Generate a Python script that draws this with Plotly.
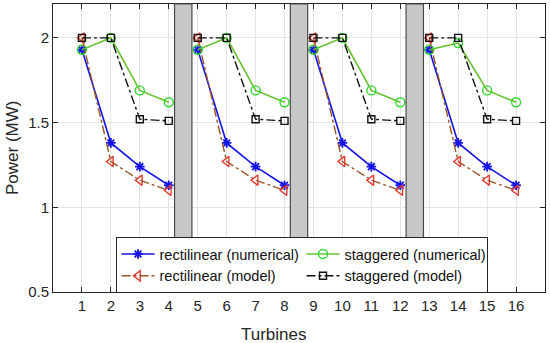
import plotly.graph_objects as go

turbines = list(range(1, 17))
rect_num = [1.93, 1.38, 1.24, 1.13, 1.93, 1.38, 1.24, 1.13, 1.93, 1.38, 1.24, 1.13, 1.93, 1.38, 1.24, 1.13]
rect_model = [2.0, 1.27, 1.16, 1.10, 2.0, 1.27, 1.16, 1.10, 2.0, 1.27, 1.16, 1.10, 2.0, 1.27, 1.16, 1.10]
stag_num = [1.93, 2.0, 1.69, 1.62, 1.93, 2.0, 1.69, 1.62, 1.93, 2.0, 1.69, 1.62, 1.93, 1.97, 1.69, 1.62]
stag_model = [2.0, 2.0, 1.52, 1.51, 2.0, 2.0, 1.52, 1.51, 2.0, 2.0, 1.52, 1.51, 2.0, 2.0, 1.52, 1.51]
groups = [[1, 2, 3, 4], [5, 6, 7, 8], [9, 10, 11, 12], [13, 14, 15, 16]]
gap_centers = [4.5, 8.5, 12.5]
gap_half = 0.3
y_ticks = [0.5, 1, 1.5, 2]

FONT = "Liberation Sans, Arial, Helvetica, sans-serif"

series = [
    ("rectilinear (numerical)", rect_num, dict(color="#1414E6", width=1.6, dash="solid"),
     dict(symbol="asterisk", size=8, color="#1414E6", line=dict(color="#1414E6", width=1.8))),
    ("staggered (numerical)", stag_num, dict(color="#66C22E", width=1.6, dash="solid"),
     dict(symbol="circle-open", size=9, color="#2ED82E", line=dict(color="#2ED82E", width=1.4))),
    ("rectilinear (model)", rect_model, dict(color="#9A5525", width=1.4, dash="dashdot"),
     dict(symbol="triangle-left-open", size=9, color="#E03A2E", line=dict(color="#E03A2E", width=1.4))),
    ("staggered (model)", stag_model, dict(color="#111111", width=1.4, dash="dashdot"),
     dict(symbol="square-open", size=7, color="#111111", line=dict(color="#111111", width=1.4))),
]

fig = go.Figure()
for name, vals, ln, mk in series:
    xs, ys = [], []
    for gi, g in enumerate(groups):
        for t in g:
            xs.append(t)
            ys.append(vals[t - 1])
        if gi < len(groups) - 1:
            xs.append(None)
            ys.append(None)
    fig.add_trace(go.Scatter(x=xs, y=ys, mode="lines+markers", name=name,
                             line=ln, marker=mk, connectgaps=False))

for c in gap_centers:
    fig.add_shape(type="rect", xref="x", yref="paper", x0=c - gap_half, x1=c + gap_half,
                  y0=0, y1=1, fillcolor="#C8C8C8", line=dict(color="#4a4a4a", width=1.2),
                  layer="above")

L, R, T, B = 53, 5, 4, 51
PW, PH = 550 - L - R, 343 - T - B

fig.update_layout(
    width=550, height=343,
    margin=dict(l=L, r=R, t=T, b=B, autoexpand=False),
    paper_bgcolor="white", plot_bgcolor="white",
    font=dict(family=FONT, size=15, color="#262626"),
    showlegend=True,
    legend=dict(orientation="h", x=(115.5 - L) / PW, y=(343 - B - 237) / PH,
                xanchor="left", yanchor="top",
                bgcolor="white", bordercolor="#262626", borderwidth=1,
                font=dict(family=FONT, size=14.5, color="#111111"),
                entrywidth=137, itemwidth=33, tracegroupgap=0),
    annotations=[
        dict(text="Power (MW)", xref="paper", yref="paper", x=(12 - L) / PW, y=0.5,
             textangle=-90, showarrow=False, xanchor="center", yanchor="middle",
             font=dict(size=17, family=FONT, color="#262626")),
        dict(text="Turbines", xref="paper", yref="paper", x=(274 - L) / PW, y=-(334 - (343 - B)) / PH,
             showarrow=False, xanchor="center", yanchor="middle",
             font=dict(size=17, family=FONT, color="#262626")),
    ],
)
fig.update_xaxes(range=[0, 17], tickvals=turbines, ticktext=[str(t) for t in turbines],
                 ticks="inside", ticklen=5, tickcolor="#262626", mirror="ticks",
                 showline=True, linecolor="#262626", linewidth=1, automargin=False,
                 showgrid=True, gridcolor="#E4E4E4", gridwidth=1, zeroline=False,
                 tickfont=dict(size=15))
fig.update_yaxes(range=[0.5, 2.2], tickvals=y_ticks, ticktext=["0.5", "1", "1.5", "2"],
                 ticks="inside", ticklen=5, tickcolor="#262626", mirror="ticks",
                 showline=True, linecolor="#262626", linewidth=1, automargin=False,
                 showgrid=True, gridcolor="#E4E4E4", gridwidth=1, zeroline=False,
                 tickfont=dict(size=15))

fig.write_html("out.html", config={"displayModeBar": False},
               post_script="document.body.style.margin='0';document.body.style.overflow='hidden';")
